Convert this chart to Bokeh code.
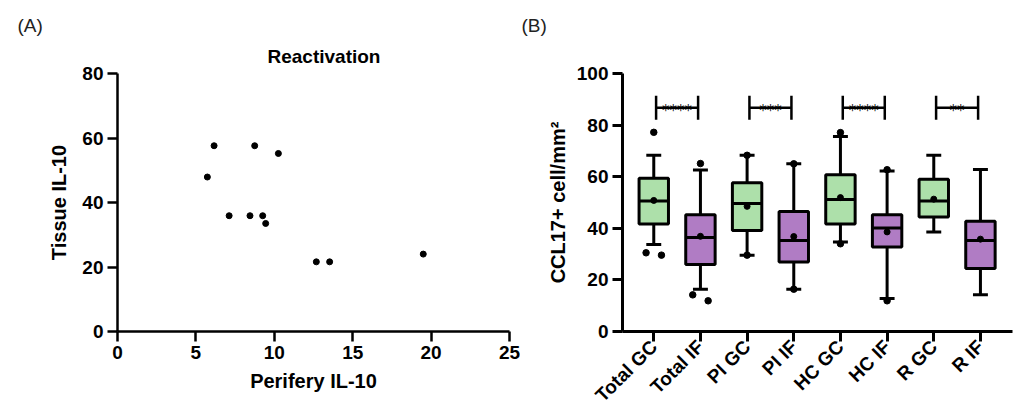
import numpy as np
from math import pi
from bokeh.plotting import figure
from bokeh.models import Range1d, FixedTicker, Title, ColumnDataSource
from bokeh.layouts import row
from bokeh.embed import file_html
from bokeh.resources import INLINE
from bokeh.core.properties import value

# ---------------- Panel A data ----------------
perifery_il10 = [5.73, 6.16, 7.12, 8.45, 8.75, 9.26, 9.45, 10.26, 12.68, 13.53, 19.5]
tissue_il10 = [47.9, 57.6, 35.9, 35.9, 57.6, 35.9, 33.5, 55.2, 21.6, 21.6, 24.0]
x_ticks_a = [0, 5, 10, 15, 20, 25]
y_ticks_a = [0, 20, 40, 60, 80]

# ---------------- Panel B data ----------------
categories = ["Total GC", "Total IF", "PI GC", "PI IF", "HC GC", "HC IF", "R GC", "R IF"]
region = ["GC", "IF", "GC", "IF", "GC", "IF", "GC", "IF"]
q1 = [41.7, 26.0, 39.1, 26.9, 41.7, 32.8, 44.4, 24.4]
median = [50.6, 36.4, 49.6, 35.3, 51.2, 40.1, 50.6, 35.3]
q3 = [59.4, 45.3, 57.7, 46.5, 60.8, 45.3, 59.0, 42.7]
whisker_low = [33.7, 16.4, 29.6, 16.4, 34.7, 12.8, 38.6, 14.2]
whisker_high = [68.3, 62.6, 68.3, 65.0, 75.6, 62.2, 68.3, 62.8]
mean = [50.8, 36.9, 48.5, 36.8, 51.9, 38.6, 51.3, 35.8]
y_ticks_b = [0, 20, 40, 60, 80, 100]

# individual points drawn (outliers / extremes)
point_category = ["Total GC", "Total GC", "Total GC", "Total IF", "Total IF", "Total IF",
                  "PI GC", "PI GC", "PI IF", "PI IF", "HC GC", "HC GC", "HC IF", "HC IF"]
point_value = [77.2, 30.5, 29.6, 65.1, 14.2, 11.9,
               68.3, 29.6, 65.0, 16.4, 77.1, 34.0, 62.7, 11.9]
point_dodge = [0, -0.165, 0.165, 0, -0.165, 0.165, 0, 0, 0, 0, 0, 0, 0, 0]

# significance comparisons
sig_left = ["Total GC", "PI GC", "HC GC", "R GC"]
sig_right = ["Total IF", "PI IF", "HC IF", "R IF"]
sig_text = ["****", "***", "****", "**"]

GREEN = "#ade0aa"
PURPLE = "#b07cc4"
FONT = "Liberation Sans"

def style_axis(ax, lw):
    ax.axis_line_width = lw
    ax.axis_line_color = "black"
    ax.major_tick_line_width = lw
    ax.major_tick_line_color = "black"
    ax.major_tick_in = 0
    ax.major_tick_out = 10
    ax.minor_tick_line_color = None
    ax.minor_tick_out = 0
    ax.major_label_text_font = FONT
    ax.major_label_text_font_style = "bold"
    ax.major_label_text_font_size = "19px"
    ax.major_label_text_color = "black"
    ax.major_label_standoff = 4
    ax.axis_label_text_font = FONT
    ax.axis_label_text_font_style = "bold"
    ax.axis_label_text_font_size = "20px"
    ax.axis_label_text_color = "black"

def add_titles(p, main_text, main_offset, tag_text, tag_offset):
    p.add_layout(Title(text=main_text, align="left", offset=main_offset, standoff=14,
                       text_font=FONT, text_font_style="bold", text_font_size="19px",
                       text_color="black"), "above")
    p.add_layout(Title(text=tag_text, align="left", offset=tag_offset, standoff=2,
                       text_font=FONT, text_font_style="normal", text_font_size="19px",
                       text_color="#222222"), "above")

# ---------------- Panel A ----------------
pa = figure(width=520, height=416, x_range=Range1d(0, 25), y_range=Range1d(0, 80),
            output_backend="svg", toolbar_location=None,
            min_border_left=117, min_border_right=11, min_border_top=73, min_border_bottom=81)
pa.outline_line_color = None
pa.grid.visible = False
pa.xaxis.ticker = FixedTicker(ticks=x_ticks_a)
pa.yaxis.ticker = FixedTicker(ticks=y_ticks_a)
style_axis(pa.xaxis[0], 2.5)
style_axis(pa.yaxis[0], 2.5)
pa.xaxis.axis_label = "Perifery IL-10"
pa.yaxis.axis_label = "Tissue IL-10"
pa.xaxis.axis_label_standoff = 8
pa.yaxis.axis_label_standoff = 9

pa.scatter(perifery_il10, tissue_il10, size=6, color="black")
add_titles(pa, "Reactivation", 150, "(A)", -100)

# ---------------- Panel B ----------------
xs = np.arange(len(categories))
pos = {c: i for i, c in enumerate(categories)}
fills = [GREEN if r == "GC" else PURPLE for r in region]

pb = figure(width=497, height=416, x_range=Range1d(-0.67, 7.687), y_range=Range1d(0, 100),
            output_backend="svg", toolbar_location=None,
            min_border_left=102, min_border_right=5, min_border_top=73, min_border_bottom=83)
pb.outline_line_color = None
pb.grid.visible = False
pb.xaxis.ticker = FixedTicker(ticks=list(xs))
pb.xaxis.major_label_overrides = {int(i): c for i, c in zip(xs, categories)}
pb.yaxis.ticker = FixedTicker(ticks=y_ticks_b)
style_axis(pb.xaxis[0], 3)
style_axis(pb.yaxis[0], 3)
pb.xaxis.major_label_orientation = pi / 4
pb.xaxis.major_label_standoff = 2
pb.yaxis.axis_label = "CCL17+ cell/mm\u00b2"
pb.yaxis.axis_label_standoff = 5
add_titles(pb, " ", 0, "(B)", -101)

box_w = 0.63
cap_w = 0.32
src = ColumnDataSource(dict(x=xs, q1=q1, q3=q3, med=median, lo=whisker_low, hi=whisker_high,
                            mean=mean, fill=fills,
                            bl=xs - box_w / 2, br=xs + box_w / 2,
                            cl=xs - cap_w / 2, cr=xs + cap_w / 2))

pb.segment(x0="x", y0="q3", x1="x", y1="hi", source=src, line_width=3, line_color="black")
pb.segment(x0="x", y0="q1", x1="x", y1="lo", source=src, line_width=3, line_color="black")
pb.segment(x0="cl", y0="hi", x1="cr", y1="hi", source=src, line_width=3, line_color="black")
pb.segment(x0="cl", y0="lo", x1="cr", y1="lo", source=src, line_width=3, line_color="black")
pb.vbar(x="x", width=box_w, bottom="q1", top="q3", source=src, fill_color="fill",
        line_color="black", line_width=3)
pb.segment(x0="bl", y0="med", x1="br", y1="med", source=src, line_width=3, line_color="black")
pb.scatter(x="x", y="mean", source=src, size=6, color="black")

px = [pos[c] + d for c, d in zip(point_category, point_dodge)]
pb.scatter(px, point_value, size=6.5, color="black")

# significance brackets
br_top, br_bar, br_bot = 91.4, 86.7, 82.1
for l, r, t in zip(sig_left, sig_right, sig_text):
    x0 = pos[l] + 0.05
    x1 = pos[r] - 0.05
    pb.segment(x0=[x0, x1, x0], y0=[br_bot, br_bot, br_bar], x1=[x0, x1, x1], y1=[br_top, br_top, br_bar],
               line_width=2.5, line_color="black")
    pb.text(x=[(pos[l] + pos[r]) / 2], y=[85.6], text=[t], text_align="center",
            text_baseline="alphabetic", text_font=value("DejaVu Sans"), text_font_size="15px",
            text_color="black")

layout = row(pa, pb)
open("out.html", "w").write(file_html(layout, INLINE))
